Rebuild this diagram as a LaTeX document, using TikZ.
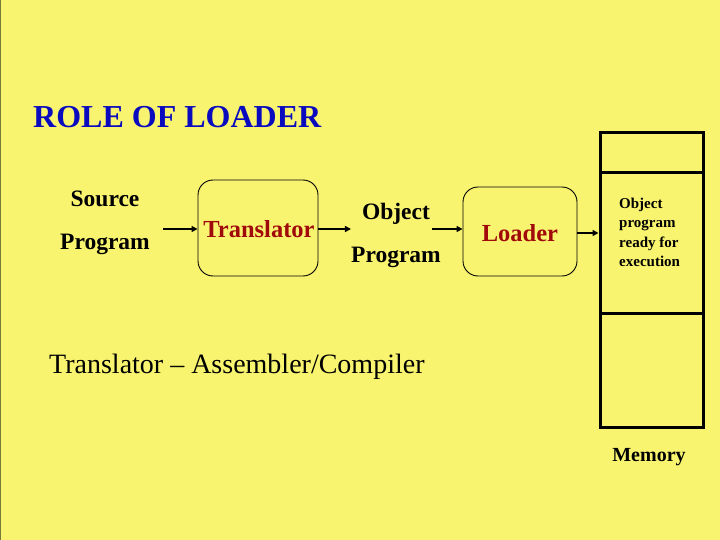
\documentclass[tikz,border=0pt]{standalone}
\usepackage{fontspec}
\setmainfont{Liberation Serif}
\usetikzlibrary{arrows.meta}
\definecolor{bg}{RGB}{249,244,112}
\definecolor{ttl}{RGB}{10,10,190}
\definecolor{dred}{RGB}{160,10,10}
\definecolor{edge}{RGB}{120,120,60}
\tikzset{
  box/.style={draw, line width=0.9pt, rounded corners=15pt, inner sep=0pt},
  arr/.style={line width=1.8pt, -{Triangle[length=6pt,width=6pt]}},
  cell/.style={draw, line width=3pt, inner sep=0pt, minimum width=103pt},
  lbl/.style={font=\bfseries\fontsize{23.5}{43}\selectfont, align=center, inner sep=0pt},
}
\begin{document}
\begin{tikzpicture}[x=1pt, y=-1pt]
\fill[bg] (0,0) rectangle (720,540);
\useasboundingbox (0,0) rectangle (720,540);
\draw[edge, line width=1.2pt] (0.6,0) -- (0.6,540);

\node[anchor=base west, inner sep=0pt, text=ttl, font=\bfseries\fontsize{32}{36}\selectfont] (title) at (33,128) {ROLE OF LOADER};

\node[lbl] (src) at (105,223) {Source\\Program};
\node[box, minimum width=120pt, minimum height=96pt] (tr) at (258,228) {};
\node[text=dred, font=\bfseries\fontsize{24.5}{28}\selectfont, inner sep=0pt] (trt) at (259,229) {Translator};
\node[lbl] (obj) at (396,235) {Object\\Program};
\node[box, minimum width=114pt, minimum height=89pt] (ld) at (520,231.5) {};
\node[text=dred, font=\bfseries\fontsize{24.5}{28}\selectfont, inner sep=0pt] (ldt) at (520,233) {Loader};

\node[cell, minimum height=40pt] (m1) at (651.5,153) {};
\node[cell, minimum height=140pt] (m2) at (651.5,243) {};
\node[cell, minimum height=114pt] (m3) at (651.5,370) {};
\node[anchor=north west, inner sep=0pt, align=left, font=\bfseries\fontsize{15}{19.3}\selectfont] (memt) at (619,198) {Object\\program\\ready for\\execution};
\node[font=\bfseries\fontsize{20}{22}\selectfont, inner sep=0pt] (memlbl) at (649,457) {Memory};

\coordinate (a1) at (163,229);
\coordinate (a2) at (432,229);
\coordinate (a3) at (577,233);
\draw[arr] (a1) -- (tr.west |- a1);
\draw[arr] (tr.east |- a1) -- (obj.west |- a1);
\draw[arr] (a2) -- (ld.west |- a2);
\draw[arr] (ld.east |- a3) -- (m2.west |- a3);

\node[anchor=base west, inner sep=0pt, font=\fontsize{28}{32}\selectfont] (note) at (49,373) {Translator -- Assembler/Compiler};
\end{tikzpicture}
\end{document}
